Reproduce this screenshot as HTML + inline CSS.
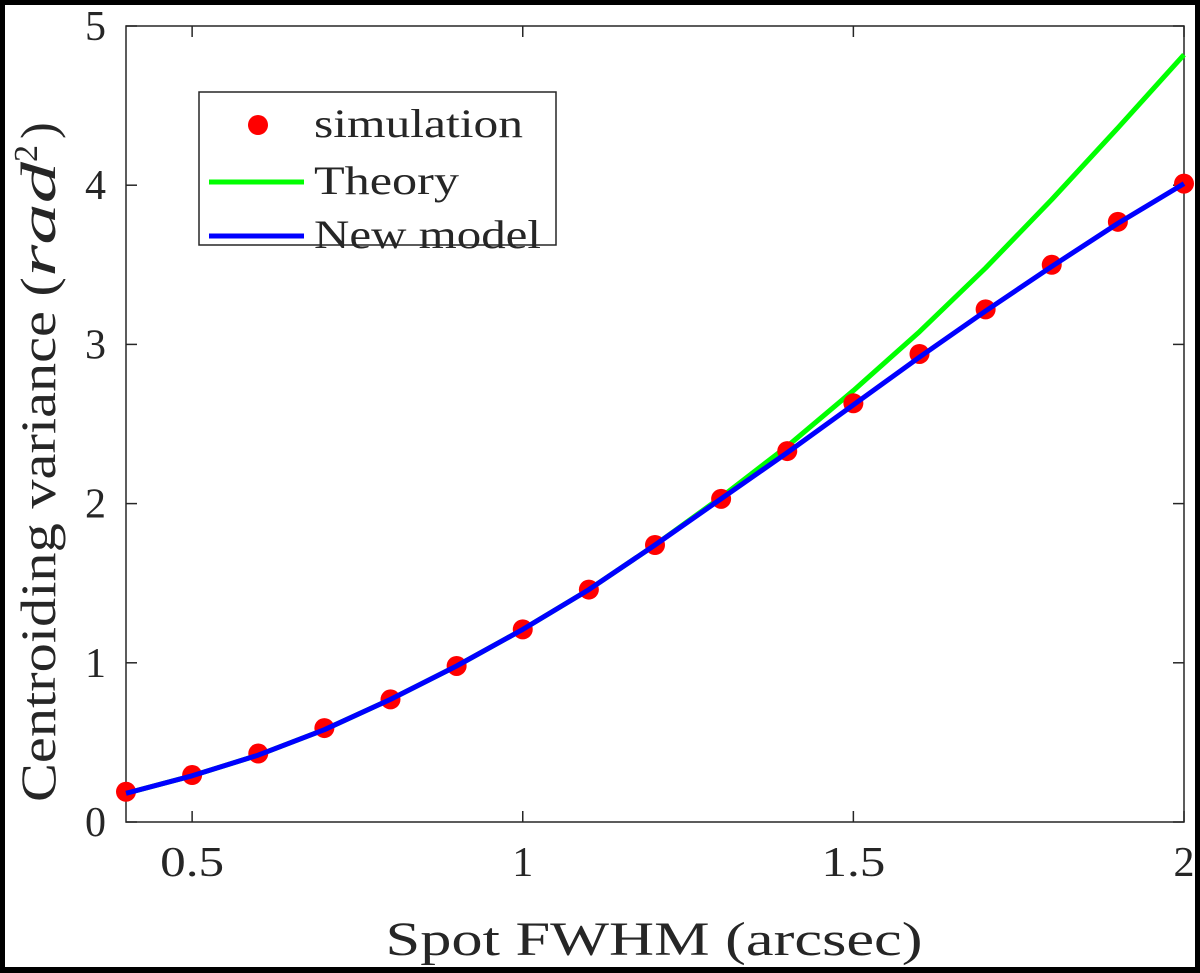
<!DOCTYPE html>
<html><head><meta charset="utf-8"><style>
html,body{margin:0;padding:0;background:#000;}
svg{display:block}
text{font-family:"Liberation Serif",serif;fill:#262626}
</style></head><body>
<svg width="1200" height="973" viewBox="0 0 1200 973">
<rect x="5" y="5" width="1190" height="962" fill="#fff"/>
<g id="plot"></g>
</svg>
<script>
const xs=[0.4,0.5,0.6,0.7,0.8,0.9,1.0,1.1,1.2,1.3,1.4,1.5,1.6,1.7,1.8,1.9,2.0];
const simulation=[0.19,0.295,0.43,0.59,0.77,0.98,1.21,1.46,1.74,2.03,2.33,2.63,2.94,3.22,3.50,3.77,4.01];
const theory=[0.18,0.29,0.42,0.58,0.77,0.98,1.21,1.46,1.74,2.04,2.36,2.71,3.08,3.48,3.91,4.36,4.82];
const newModel=[0.18,0.29,0.42,0.58,0.77,0.98,1.21,1.46,1.74,2.03,2.32,2.62,2.92,3.21,3.49,3.76,4.01];
const xTicks=[0.5,1,1.5,2];
const xTickLabels=["0.5","1","1.5","2"];
const yTicks=[0,1,2,3,4,5];
const yTickLabels=["0","1","2","3","4","5"];
const L=126,R=1184,T=26,B=822;
const sx=v=>L+(v-0.4)/1.6*(R-L);
const sy=v=>B-v/5*(B-T);
const g=document.getElementById('plot');
const NS='http://www.w3.org/2000/svg';
function mk(tag,attrs,parent){const e=document.createElementNS(NS,tag);for(const k in attrs)e.setAttribute(k,attrs[k]);(parent||g).appendChild(e);return e;}
let e;
e=mk('rect',{x:L,y:T,width:R-L,height:B-T,fill:'none',stroke:'#262626','stroke-width':1.5});


xTicks.forEach((t,i)=>{
 e=mk('line',{x1:sx(t),x2:sx(t),y1:B,y2:B-11,stroke:'#262626','stroke-width':1.5});
 
 
 e=mk('line',{x1:sx(t),x2:sx(t),y1:T,y2:T+11,stroke:'#262626','stroke-width':1.5});
 
 
 e=mk('text',{x:sx(t),y:B+54,'font-size':42,'text-anchor':'middle'});
 if(xTickLabels[i].length>1){e.setAttribute('textLength',64);e.setAttribute('lengthAdjust','spacingAndGlyphs');}
 e.textContent=xTickLabels[i];
 
 
});
yTicks.forEach((t,i)=>{
 e=mk('line',{x1:L,x2:L+11,y1:sy(t),y2:sy(t),stroke:'#262626','stroke-width':1.5});
 
 
 e=mk('line',{x1:R,x2:R-11,y1:sy(t),y2:sy(t),stroke:'#262626','stroke-width':1.5});
 
 
 e=mk('text',{x:L-20,y:sy(t)+14,'font-size':42,'text-anchor':'end'});
 e.textContent=yTickLabels[i];
 
 
});
function line(arr,color,name){
 const d=arr.map((v,i)=>(i?'L':'M')+sx(xs[i]).toFixed(1)+','+sy(v).toFixed(1)).join('');
 const p=mk('path',{d:d,fill:'none',stroke:color,'stroke-width':5,'stroke-linejoin':'round'});
 
 
}
line(theory,'#00ff00','theory-line');
simulation.forEach((v,i)=>{
 const c=mk('circle',{cx:sx(xs[i]),cy:sy(v),r:10,fill:'#ff0000'});
 
 
});
line(newModel,'#0000ff','new-model-line');
const lg=mk('g',{});


mk('rect',{x:199,y:92,width:357,height:153,fill:'#fff',stroke:'#262626','stroke-width':1.5},lg);
e=mk('circle',{cx:258,cy:125,r:10,fill:'#ff0000'},lg);


e=mk('line',{x1:209,x2:304,y1:182,y2:182,stroke:'#00ff00','stroke-width':5},lg);


e=mk('line',{x1:209,x2:304,y1:236,y2:236,stroke:'#0000ff','stroke-width':5},lg);


[['simulation',137,209],['Theory',194,145],['New model',248,227]].forEach(([s,y,w])=>{
 const t=mk('text',{x:314,y:y,'font-size':40,textLength:w,lengthAdjust:'spacingAndGlyphs'},lg);t.textContent=s;
 
 
});
e=mk('text',{x:654,y:955,'font-size':48,'text-anchor':'middle',textLength:537,lengthAdjust:'spacingAndGlyphs'});
e.textContent='Spot FWHM (arcsec)';


e=mk('text',{x:0,y:0,'font-size':50,'text-anchor':'start',transform:'translate(55,802) rotate(-90)'});
e.innerHTML='<tspan textLength="525" lengthAdjust="spacingAndGlyphs">Centroiding variance (</tspan><tspan font-style="italic" textLength="115" lengthAdjust="spacingAndGlyphs">rad</tspan><tspan font-size="34" dy="-18">2</tspan><tspan dy="18" dx="6">)</tspan>';


</script>
</body></html>
